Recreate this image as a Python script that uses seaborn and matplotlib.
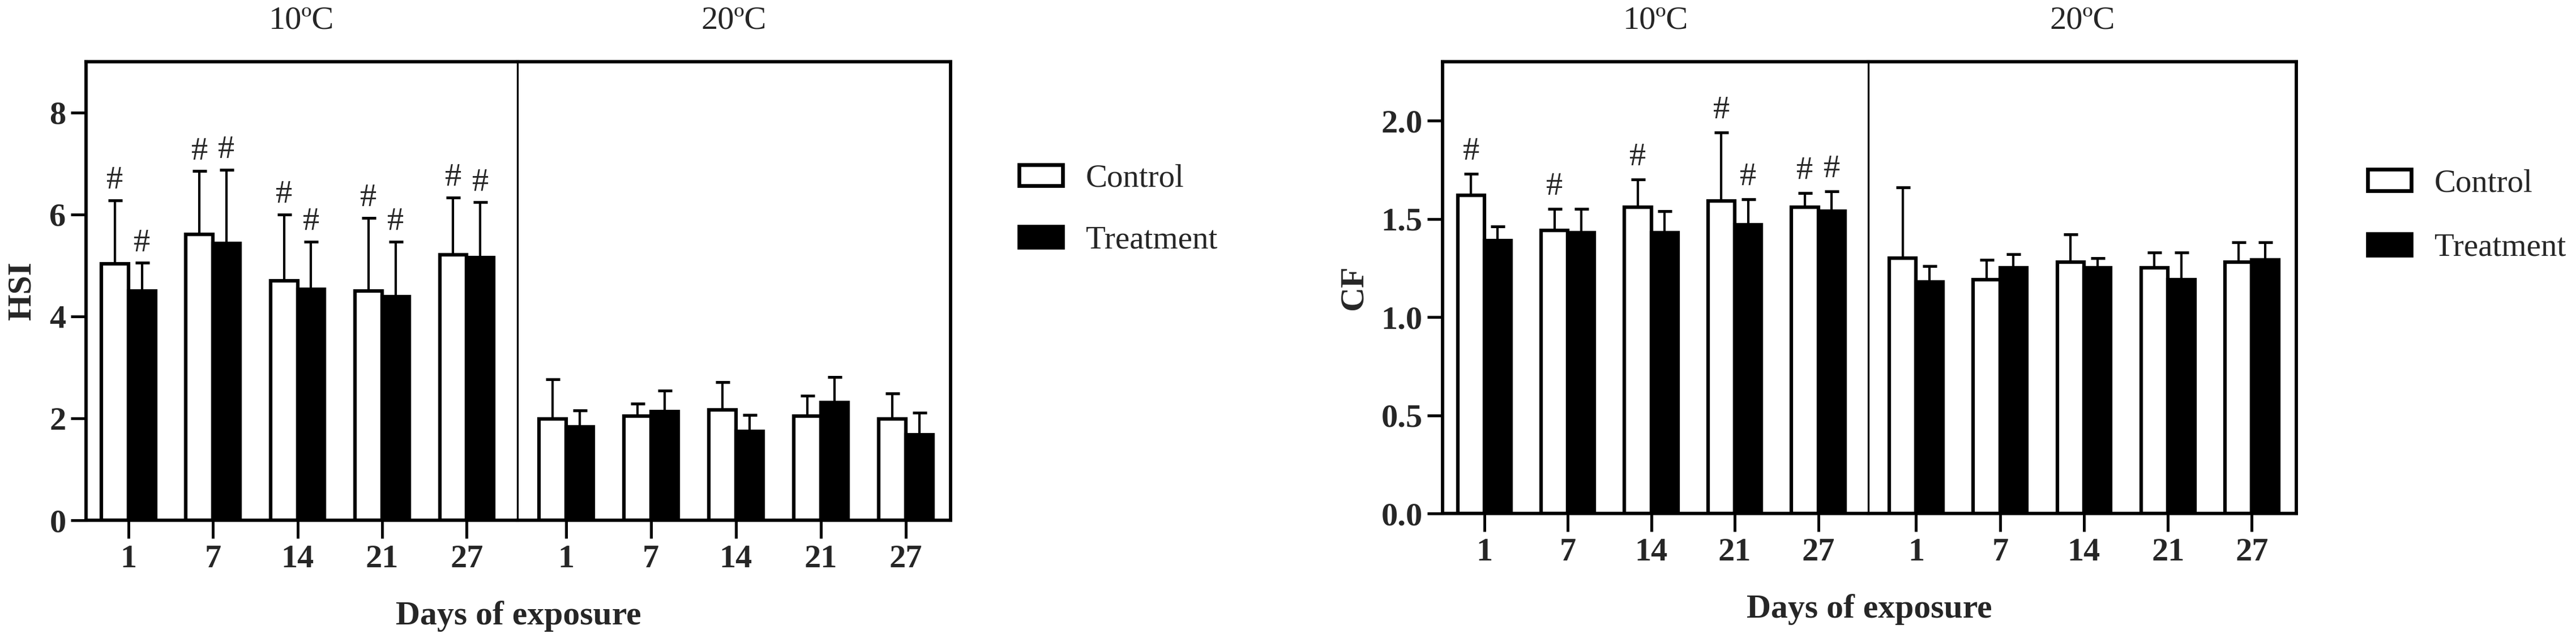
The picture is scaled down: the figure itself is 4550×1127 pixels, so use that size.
import numpy as np
import pandas as pd
import matplotlib
matplotlib.use("Agg")
import matplotlib.pyplot as plt
import seaborn as sns

# ---- data (mean, upper SD) ----
days = ["1", "7", "14", "21", "27"]
groups = ["Control", "Treatment"]
temps = ["10ºC", "20ºC"]

hsi_ctrl_10 = [5.03, 5.61, 4.70, 4.50, 5.21]
hsi_ctrl_10_sd = [1.25, 1.24, 1.30, 1.43, 1.12]
hsi_trt_10 = [4.50, 5.43, 4.53, 4.39, 5.15]
hsi_trt_10_sd = [0.55, 1.45, 0.94, 1.08, 1.09]
hsi_ctrl_20 = [1.99, 2.05, 2.17, 2.05, 1.99]
hsi_ctrl_20_sd = [0.78, 0.24, 0.54, 0.39, 0.50]
hsi_trt_20 = [1.83, 2.13, 1.75, 2.31, 1.68]
hsi_trt_20_sd = [0.33, 0.42, 0.32, 0.50, 0.43]

cf_ctrl_10 = [1.62, 1.44, 1.56, 1.59, 1.56]
cf_ctrl_10_sd = [0.11, 0.11, 0.14, 0.35, 0.07]
cf_trt_10 = [1.39, 1.43, 1.43, 1.47, 1.54]
cf_trt_10_sd = [0.07, 0.12, 0.11, 0.13, 0.10]
cf_ctrl_20 = [1.30, 1.19, 1.28, 1.25, 1.28]
cf_ctrl_20_sd = [0.36, 0.10, 0.14, 0.08, 0.10]
cf_trt_20 = [1.18, 1.25, 1.25, 1.19, 1.29]
cf_trt_20_sd = [0.08, 0.07, 0.05, 0.14, 0.09]

# "#" marks (1 = shown)
hsi_mark_ctrl_10 = [1, 1, 1, 1, 1]
hsi_mark_trt_10 = [1, 1, 1, 1, 1]
cf_mark_ctrl_10 = [1, 1, 1, 1, 1]
cf_mark_trt_10 = [0, 0, 0, 1, 1]
no_marks = [0, 0, 0, 0, 0]


def long_frame(series):
    rows = []
    for temp, grp, means, sds, marks in series:
        for d, m, s, k in zip(days, means, sds, marks):
            rows.append({"temp": temp, "group": grp, "day": d,
                         "mean": m, "sd": s, "mark": k})
    return pd.DataFrame(rows)


hsi_df = long_frame([
    ("10ºC", "Control", hsi_ctrl_10, hsi_ctrl_10_sd, hsi_mark_ctrl_10),
    ("10ºC", "Treatment", hsi_trt_10, hsi_trt_10_sd, hsi_mark_trt_10),
    ("20ºC", "Control", hsi_ctrl_20, hsi_ctrl_20_sd, no_marks),
    ("20ºC", "Treatment", hsi_trt_20, hsi_trt_20_sd, no_marks),
])
cf_df = long_frame([
    ("10ºC", "Control", cf_ctrl_10, cf_ctrl_10_sd, cf_mark_ctrl_10),
    ("10ºC", "Treatment", cf_trt_10, cf_trt_10_sd, cf_mark_trt_10),
    ("20ºC", "Control", cf_ctrl_20, cf_ctrl_20_sd, no_marks),
    ("20ºC", "Treatment", cf_trt_20, cf_trt_20_sd, no_marks),
])

# ---- style ----
sns.set_style("ticks")
plt.rcParams['font.family'] = ['Liberation Serif', 'DejaVu Serif']
plt.rcParams['axes.edgecolor'] = 'black'

W, H = 4550, 1127
fig = plt.figure(figsize=(W / 100, H / 100), dpi=100)
palette = {"Control": "white", "Treatment": "black"}


def px_rect(x0, x1, ytop, ybot):
    return [x0 / W, 1 - ybot / H, (x1 - x0) / W, (ybot - ytop) / H]


def draw_panel(ax, df, temp, xlim, ylim, yticks, first, mark_off):
    sub = df[df["temp"] == temp]
    sns.barplot(data=sub, x="day", y="mean", hue="group", order=days,
                hue_order=groups, palette=palette, edgecolor="black",
                linewidth=4.5, width=0.64, errorbar=None, ax=ax,
                legend=first, saturation=1)
    for cont, grp in zip(ax.containers, groups):
        g = sub[sub["group"] == grp].set_index("day").loc[days]
        xs = [b.get_x() + b.get_width() / 2 for b in cont]
        ax.errorbar(xs, g["mean"], yerr=[np.zeros(len(days)), g["sd"]],
                    fmt="none", ecolor="black", elinewidth=3, capsize=9,
                    capthick=3.6, zorder=0.5)
        for x, m, s, k in zip(xs, g["mean"], g["sd"], g["mark"]):
            if k:
                ax.annotate("#", (x, m + s), xytext=(0, mark_off),
                            textcoords="offset points", ha="center",
                            va="baseline", fontsize=42)
    ax.set_xlim(*xlim)
    ax.set_ylim(*ylim)
    ax.set_xlabel("")
    ax.set_ylabel("")
    ax.set_title(temp, fontsize=42, pad=42)
    ax.tick_params(axis="x", direction="out", length=23, width=3.6,
                   pad=8, labelsize=42, color="black")
    plt.setp(ax.get_xticklabels(), fontweight="bold")
    for side in ["top", "bottom", "left", "right"]:
        ax.spines[side].set_linewidth(4.2)
        ax.spines[side].set_color("black")
    if first:
        ax.spines["right"].set_visible(False)
        ax.set_yticks(yticks)
        ax.tick_params(axis="y", direction="out", length=19.5, width=3.6,
                       pad=6, labelsize=42, color="black")
        plt.setp(ax.get_yticklabels(), fontweight="bold")
    else:
        ax.spines["left"].set_linewidth(2.4)
        ax.tick_params(axis="y", left=False, labelleft=False)


def draw_chart(df, x0, xdiv, x1, ytop, ybot, ylim, yticks, ylabel,
               mark_off, xlabel_y, leg_x, leg_y, leg_space):
    ax_a = fig.add_axes(px_rect(x0, xdiv, ytop, ybot))
    ax_b = fig.add_axes(px_rect(xdiv, x1, ytop, ybot))
    draw_panel(ax_a, df, temps[0], (-0.5, 4.6), ylim, yticks, True, mark_off)
    draw_panel(ax_b, df, temps[1], (-0.57, 4.53), ylim, yticks, False, mark_off)
    ax_a.set_ylabel(ylabel, fontsize=43, fontweight="bold", labelpad=15)

    leg = ax_a.get_legend()
    handles = leg.legend_handles
    labels = [t.get_text() for t in leg.texts]
    leg.remove()
    for h in handles:
        h.set_edgecolor("black")
        h.set_linewidth(4.8)
    fig.legend(handles, labels, loc="center left",
               bbox_to_anchor=(leg_x / W, 1 - leg_y / H), frameon=False,
               fontsize=41, handlelength=1.35, handleheight=0.64,
               handletextpad=0.72, labelspacing=leg_space, borderpad=0,
               borderaxespad=0)
    fig.text((x0 + x1) / 2 / W, 1 - xlabel_y / H, "Days of exposure",
             ha="center", va="center", fontsize=43, fontweight="bold")


draw_chart(hsi_df, 152, 914, 1679, 109, 919, (0, 9), [0, 2, 4, 6, 8], "HSI",
           15, 1089, 1800, 370, 1.0)
draw_chart(cf_df, 2548, 3300, 4056, 109, 907, (0, 2.3),
           [0.0, 0.5, 1.0, 1.5, 2.0], "CF", 18, 1077, 4182, 381, 1.08)

fig.savefig("out.png", dpi=100, facecolor="white")
